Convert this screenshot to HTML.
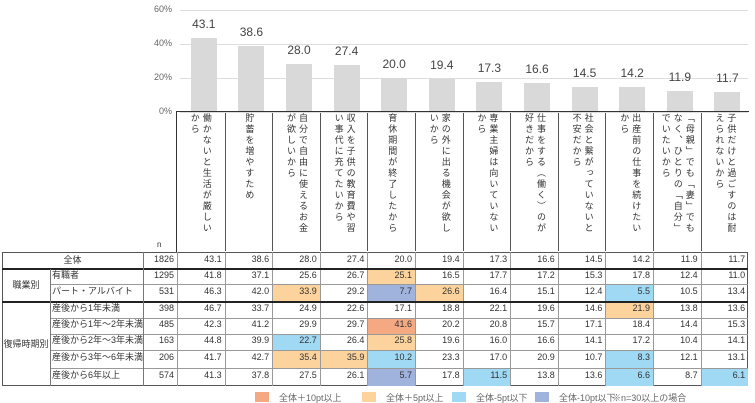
<!DOCTYPE html>
<html><head><meta charset="utf-8">
<style>
body{margin:0;background:#fff;}
#root{position:relative;width:755px;height:403px;overflow:hidden;font-family:"Liberation Sans","Noto Sans CJK JP",sans-serif;color:#333;}
.a{position:absolute;}
.t{font-size:9px;white-space:nowrap;}
.vl{writing-mode:vertical-rl;font-size:9px;letter-spacing:2px;line-height:12px;height:122px;}
</style></head>
<body>
<div id="root"></div>
<script>
const categories=["働かないと生活が厳しいから","貯蓄を増やすため","自分で自由に使えるお金が欲しいから","収入を子供の教育費や習い事代に充てたいから","育休期間が終了したから","家の外に出る機会が欲しいから","専業主婦は向いていないから","仕事をする（働く）のが好きだから","社会と繋がっていないと不安だから","出産前の仕事を続けたいから","「母親」でも「妻」でもなく、ひとりの「自分」でいたいから","子供だけと過ごすのは耐えられないから"];
const totalValues=[43.1,38.6,28.0,27.4,20.0,19.4,17.3,16.6,14.5,14.2,11.9,11.7];
const totalN=1826;
const yTicks=[0,20,40,60];
const rowGroups=["職業別","職業別","復帰時期別","復帰時期別","復帰時期別","復帰時期別","復帰時期別"];
const rowLabels=["有職者","パート・アルバイト","産後から1年未満","産後から1年～2年未満","産後から2年～3年未満","産後から3年～6年未満","産後から6年以上"];
const rowN=[1295,531,398,485,163,206,574];
const row1=[41.8,37.1,25.6,26.7,25.1,16.5,17.7,17.2,15.3,17.8,12.4,11.0];
const row2=[46.3,42.0,33.9,29.2,7.7,26.6,16.4,15.1,12.4,5.5,10.5,13.4];
const row3=[46.7,33.7,24.9,22.6,17.1,18.8,22.1,19.6,14.6,21.9,13.8,13.6];
const row4=[42.3,41.2,29.9,29.7,41.6,20.2,20.8,15.7,17.1,18.4,14.4,15.3];
const row5=[44.8,39.9,22.7,26.4,25.8,19.6,16.0,16.6,14.1,17.2,10.4,14.1];
const row6=[41.7,42.7,35.4,35.9,10.2,23.3,17.0,20.9,10.7,8.3,12.1,13.1];
const row7=[41.3,37.8,27.5,26.1,5.7,17.8,11.5,13.8,13.6,6.6,8.7,6.1];
const rows=[row1,row2,row3,row4,row5,row6,row7];

const root=document.getElementById('root');
function mk(cls,css,txt){const d=document.createElement('div');d.className=cls;d.style.cssText=css;if(txt!==undefined)d.textContent=txt;root.appendChild(d);return d;}
const X0=177,CW=47.6,Y0=111.5,PX=34/20;
const colX=i=>X0+CW*i;
const yS=v=>Y0-v*PX;

// grid + ticks
yTicks.forEach(t=>{
  const g=mk('a',`left:180px;top:${yS(t)}px;width:568px;height:1px;background:#ddd;`);
  
  
  const l=mk('a t',`right:${755-172}px;top:${yS(t)-6}px;color:#666;`,t+'%');
  
  
});
// bars
totalValues.forEach((v,i)=>{
  const cx=colX(i)+CW/2+3;
  const b=mk('a',`left:${cx-13}px;top:${yS(v)}px;width:26px;height:${Y0-yS(v)}px;background:#d9d9d9;`);
  
  
  const l=mk('a',`left:${cx-20}px;width:40px;text-align:center;top:${yS(v)-21}px;font-size:12px;color:#444;`,v.toFixed(1));
  
  
});
// label area
const la=mk('a',`left:176px;top:111px;width:572px;height:140px;border-left:1px solid #333;border-top:1px solid #333;`);


categories.forEach((c,i)=>{
  const w=mk('a',`left:${colX(i)}px;top:113px;width:${CW}px;height:138px;display:flex;justify-content:center;${i>0?'border-left:1px solid #555;':''}`);
  
  
  const s=document.createElement('div');s.className='vl';s.textContent=c;w.appendChild(s);
});
mk('a t',`left:157px;top:240px;font-size:8px;`,'n');

// table
const rowTops=[252,269,284,302,318,334,350,368,386];
function cellColor(base,v){const d=v-base;if(d>=10)return'#f4a983';if(d>=5)return'#fcd39c';if(d<=-10)return'#9fb3dd';if(d<=-5)return'#9fd9f3';return'';}
const tb=mk('a',`left:2px;top:252px;width:746px;height:134px;border:1px solid #555;box-sizing:border-box;`);


function drawRow(r,label,n,vals,isTotal){
  const top=rowTops[r],h=rowTops[r+1]-top;
  if(isTotal){const c=mk('a t',`left:2px;top:${top}px;width:141px;height:${h}px;line-height:${h}px;text-align:center;`,label);
    }
  else{const c=mk('a t',`left:52px;top:${top}px;height:${h}px;line-height:${h-3}px;`,label);
    }
  const nn=mk('a t',`left:143px;top:${top}px;width:31px;text-align:right;line-height:${h-3}px;`,String(n));
  
  vals.forEach((v,i)=>{
    const bg=isTotal?'':cellColor(totalValues[i],v);
    const c=mk('a t',`left:${colX(i)}px;top:${top}px;width:${CW}px;height:${h}px;box-sizing:border-box;padding-right:3px;text-align:right;line-height:${h-3}px;background:${bg||'transparent'};border-left:1px solid #999;`,v.toFixed(1));
    
    
  });
}
drawRow(0,'全体',totalN,totalValues,true);
rows.forEach((vals,k)=>drawRow(k+1,rowLabels[k],rowN[k],vals,false));
// grid lines
for(let r=1;r<8;r++){
  const thick=(r===1||r===3);
  const lft=thick?2:50;
  mk('a',`left:${lft}px;top:${rowTops[r]-(thick?1:0)}px;width:${748-lft}px;height:${thick?2:1}px;background:${thick?'#222':'#999'};`);
}
mk('a',`left:143px;top:252px;width:1px;height:134px;background:#777;`);
mk('a',`left:50px;top:269px;width:1px;height:117px;background:#777;`);
const g1=mk('a t',`left:2px;top:269px;width:48px;height:33px;line-height:33px;text-align:center;`,'職業別');

const g2=mk('a t',`left:2px;top:302px;width:48px;height:84px;line-height:84px;text-align:center;`,'復帰時期別');


// legend
const legendColors=['#f4a983','#fcd39c','#9fd9f3','#9fb3dd'];
const legendText=['全体＋10pt以上','全体＋5pt以上','全体-5pt以下','全体-10pt以下'];
const legendX=[255,362,452,535];
legendText.forEach((t,i)=>{
  const b=mk('a',`left:${legendX[i]}px;top:392px;width:14px;height:10px;background:${legendColors[i]};`);
  
  const l=mk('a t',`left:${legendX[i]+24}px;top:391px;color:#666;`,t);
  
});
const nt=mk('a t',`left:612px;top:391px;color:#666;`,'※n=30以上の場合');

</script>
</body></html>
